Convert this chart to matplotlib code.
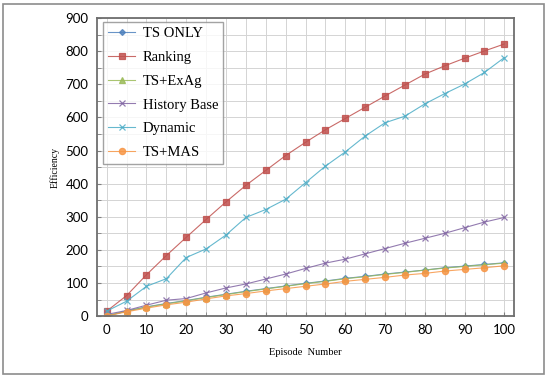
import numpy as np
import matplotlib
matplotlib.use("Agg")
import matplotlib.pyplot as plt
from matplotlib.patches import Rectangle
from matplotlib.ticker import MultipleLocator

episodes = list(range(0, 101, 5))

ts_only = [0, 15, 28, 38, 47, 57, 66, 75, 83, 91, 99, 106, 114, 120, 127, 133, 139, 146, 151, 156, 161]
ranking = [15, 62, 125, 183, 238, 292, 345, 395, 440, 485, 525, 563, 597, 631, 665, 698, 731, 756, 779, 801, 822]
ts_exag = [1, 15, 27, 37, 46, 56, 65, 74, 82, 90, 98, 105, 113, 119, 126, 132, 139, 145, 150, 155, 160]
history = [5, 17, 33, 48, 53, 70, 85, 97, 112, 127, 144, 160, 172, 188, 204, 220, 235, 250, 267, 284, 298]
dynamic = [15, 45, 90, 113, 177, 203, 245, 298, 322, 353, 403, 453, 496, 544, 584, 604, 641, 672, 701, 736, 781]
ts_mas = [0, 13, 24, 34, 42, 52, 61, 68, 76, 83, 90, 97, 105, 111, 117, 124, 129, 136, 141, 146, 152]

series = [
    ("TS ONLY", ts_only, "#4F81BD", "D", 3),
    ("Ranking", ranking, "#C0504D", "s", 4.5),
    ("TS+ExAg", ts_exag, "#9BBB59", "^", 4),
    ("History Base", history, "#8064A2", "x", 4),
    ("Dynamic", dynamic, "#4BACC6", "x", 4),
    ("TS+MAS", ts_mas, "#F79646", "o", 4.5),
]

fig = plt.figure(figsize=(5.5, 3.79), dpi=100)
fig.patches.append(Rectangle((3 / 550, 5 / 379), 541 / 550, 370 / 379,
                             transform=fig.transFigure, fill=False,
                             edgecolor="#8c8c8c", linewidth=1.2))
ax = fig.add_axes([0.176, 0.166, 0.759, 0.786])

for name, vals, col, mk, ms in series:
    ax.plot(episodes, vals, color=col, marker=mk, markersize=ms,
            linewidth=0.8, alpha=0.85, markeredgewidth=0.9, label=name)

ax.set_xlim(-2.5, 102.5)
ax.set_ylim(0, 900)
ax.xaxis.set_major_locator(MultipleLocator(10))
ax.xaxis.set_minor_locator(MultipleLocator(5))
ax.yaxis.set_major_locator(MultipleLocator(100))
ax.yaxis.set_minor_locator(MultipleLocator(50))
ax.grid(which="both", color="#d4d4d4", linewidth=0.7)
ax.set_axisbelow(True)
ax.tick_params(which="both", direction="in", length=3, color="#7f7f7f",
               labelsize=9.5, pad=6)
for lab in ax.get_xticklabels() + ax.get_yticklabels():
    lab.set_family("Lato")
for sp in ax.spines.values():
    sp.set_color("#6e6e6e")
    sp.set_linewidth(1.3)

ax.set_xlabel("Episode  Number", family="Liberation Serif", fontsize=7.5, labelpad=8)
ax.set_ylabel("Efficiency", family="Liberation Serif", fontsize=7, labelpad=4)

leg = ax.legend(loc="upper left", prop={"family": "Liberation Serif", "size": 10.5},
                frameon=True, fancybox=False, edgecolor="#8c8c8c",
                labelspacing=0.72, handlelength=1.9, handletextpad=0.5,
                borderpad=0.35, borderaxespad=0, bbox_to_anchor=(0.014, 0.987))
leg.get_frame().set_linewidth(1.0)

fig.savefig("out.png", dpi=100)
